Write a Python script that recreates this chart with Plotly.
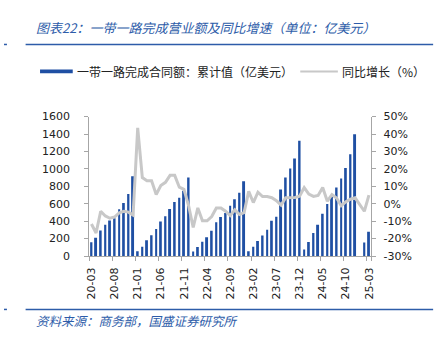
import plotly.graph_objects as go

# ---------------- data ----------------
months = [
    "20-03", "20-04", "20-05", "20-06", "20-07", "20-08", "20-09", "20-10", "20-11", "20-12",
    "21-01", "21-02", "21-03", "21-04", "21-05", "21-06", "21-07", "21-08", "21-09", "21-10", "21-11", "21-12",
    "22-01", "22-02", "22-03", "22-04", "22-05", "22-06", "22-07", "22-08", "22-09", "22-10", "22-11", "22-12",
    "23-01", "23-02", "23-03", "23-04", "23-05", "23-06", "23-07", "23-08", "23-09", "23-10", "23-11", "23-12",
    "24-01", "24-02", "24-03", "24-04", "24-05", "24-06", "24-07", "24-08", "24-09", "24-10", "24-11", "24-12",
    "25-01", "25-02", "25-03",
]

contract_value = [
    158, 210, 294, 360, 408, 434, 537, 610, 713, 915,
    55, 107, 180, 239, 309, 397, 456, 540, 621, 669, 748, 901,
    51, 105, 163, 215, 290, 388, 449, 493, 578, 651, 725, 857,
    55, 107, 173, 235, 301, 405, 452, 765, 901, 1004, 1118, 1324,
    74, 162, 265, 360, 485, 596, 691, 787, 890, 1011, 1169, 1397,
    None, 155, 280,
]

yoy_growth = [
    -11.6, -16.8, -4.3, -7.0, -8.3, -7.6, -5.2, -4.3, -4.8, -6.5,
    43.5, 15.0, 13.2, 13.2, 5.3, 10.5, 12.3, 16.3, 16.3, 9.5, 8.3, -1.0,
    -13.6, -2.4, -9.8, -9.8, -7.3, -2.4, -2.4, -4.3, -6.8, -3.5, -6.2, -5.1,
    7.1, 0.7, 6.6, 4.1, 4.1, 3.5, 1.8, -0.8, 3.5, 3.7, 3.6, 4.3,
    9.3, 5.5, 4.2, 4.8, 9.3, 1.5, 5.2, 3.3, -1.1, 1.1, 2.6, 3.4,
    None, -4.3, 5.0,
]

x_tick_labels = ["20-03", "20-08", "21-01", "21-06", "21-11", "22-04", "22-09",
                 "23-02", "23-07", "23-12", "24-05", "24-10", "25-03"]
left_tick_vals = [0, 200, 400, 600, 800, 1000, 1200, 1400, 1600]
right_tick_vals = [-30, -20, -10, 0, 10, 20, 30, 40, 50]
right_tick_text = ["-30%", "-20%", "-10%", "0%", "10%", "20%", "30%", "40%", "50%"]

title_text = "图表22：一带一路完成营业额及同比增速（单位：亿美元）"
source_text = "资料来源：商务部，国盛证券研究所"
legend_bar = "一带一路完成合同额：累计值（亿美元）"
legend_line = "同比增长（%）"

# ---------------- layout helpers ----------------
W, H = 444, 340
def px(x):
    return x / W
def py(y):
    return 1 - y / H

BLUE = "#1F4FA3"
GRAY_LINE = "#C8C8C8"
AXIS = "#A6A6A6"
HEAD = "#2D5CA9"
TICKFONT = dict(family="DejaVu Sans", size=11, color="#222222")
CJK = "Noto Sans CJK SC"

fig = go.Figure()
fig.add_trace(go.Bar(x=months, y=contract_value, marker=dict(color=BLUE, line=dict(width=0)),
                     width=0.42, name=legend_bar, yaxis="y"))
fig.add_trace(go.Scatter(x=months, y=yoy_growth, mode="lines", connectgaps=True,
                         line=dict(color=GRAY_LINE, width=3), name=legend_line, yaxis="y2"))

fig.update_layout(
    width=W, height=H, margin=dict(l=0, r=0, t=0, b=0),
    paper_bgcolor="white", plot_bgcolor="white", showlegend=False,
    xaxis=dict(type="category", domain=[px(86.7), px(374)], range=[-0.5, len(months) - 0.5],
               tickmode="array", tickvals=x_tick_labels, ticktext=x_tick_labels,
               tickangle=-90, tickson="boundaries", ticks="outside", ticklen=4,
               tickcolor=AXIS, showline=True, linecolor=AXIS, linewidth=1,
               showgrid=False, zeroline=False, tickfont=TICKFONT, ticklabelstandoff=6),
    yaxis=dict(domain=[py(260), py(115)], range=[0, 1600], tickmode="array",
               tickvals=left_tick_vals, ticks="outside", ticklen=4, tickcolor=AXIS,
               showline=True, linecolor=AXIS, linewidth=1, showgrid=False, zeroline=False,
               tickfont=TICKFONT, ticklabelstandoff=12),
    yaxis2=dict(overlaying="y", side="right", anchor="x", range=[-30, 50], tickmode="array",
                tickvals=right_tick_vals, ticktext=right_tick_text, ticks="outside", ticklen=4,
                tickcolor=AXIS, showline=True, linecolor=AXIS, linewidth=1, showgrid=False,
                zeroline=False, tickfont=TICKFONT, ticklabelstandoff=5),
)

shapes = [
    dict(type="line", xref="paper", yref="paper", x0=px(22), x1=px(437), y0=py(40), y1=py(40),
         line=dict(color=HEAD, width=1.5)),
    dict(type="line", xref="paper", yref="paper", x0=px(0), x1=px(3), y0=py(40), y1=py(40),
         line=dict(color=HEAD, width=1.5)),
    dict(type="line", xref="paper", yref="paper", x0=px(22), x1=px(437), y0=py(315.5), y1=py(315.5),
         line=dict(color=HEAD, width=1.5)),
    dict(type="line", xref="paper", yref="paper", x0=px(0), x1=px(3), y0=py(315.5), y1=py(315.5),
         line=dict(color=HEAD, width=1.5)),
    # legend symbols
    dict(type="rect", xref="paper", yref="paper", x0=px(36.7), x1=px(70), y0=py(70), y1=py(66),
         fillcolor=BLUE, line=dict(width=0)),
    dict(type="line", xref="paper", yref="paper", x0=px(301.7), x1=px(340), y0=py(68), y1=py(68),
         line=dict(color=GRAY_LINE, width=2)),
]
annotations = [
    dict(text="<i>" + title_text + "</i>", x=px(31), y=py(22), xref="paper", yref="paper",
         xanchor="left", yanchor="middle", showarrow=False,
         font=dict(family=CJK, size=13, color=HEAD)),
    dict(text="<i>" + source_text + "</i>", x=px(31), y=py(326.5), xref="paper", yref="paper",
         xanchor="left", yanchor="middle", showarrow=False,
         font=dict(family=CJK, size=12.5, color=HEAD)),
    dict(text=legend_bar, x=px(72), y=py(68), xref="paper", yref="paper",
         xanchor="left", yanchor="middle", showarrow=False,
         font=dict(family=CJK, size=12, color="#222222")),
    dict(text=legend_line, x=px(342), y=py(68), xref="paper", yref="paper",
         xanchor="left", yanchor="middle", showarrow=False,
         font=dict(family=CJK, size=12, color="#222222")),
]
fig.update_layout(shapes=shapes, annotations=annotations)

fig.write_html("out.html")
